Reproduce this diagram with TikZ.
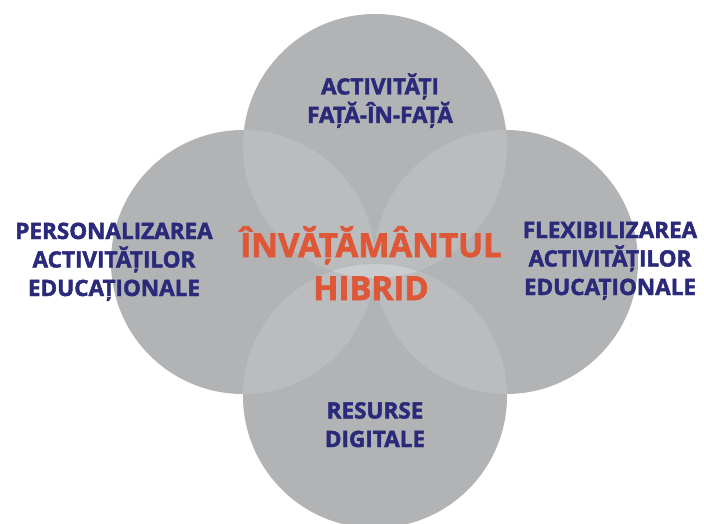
\documentclass[tikz,border=0pt]{standalone}
\usepackage{fontspec}
\newfontfamily\heavyfont{Open Sans}[BoldFeatures={FakeBold=2}]

\definecolor{petal}{RGB}{177,179,181}
\definecolor{petallight}{RGB}{186,188,190}
\definecolor{petallens}{RGB}{202,204,206}
\definecolor{navytext}{RGB}{43,41,122}
\definecolor{hubred}{RGB}{222,88,56}

\tikzset{
  petaltext/.style={text=navytext, align=center, anchor=base,
    font=\heavyfont\bfseries\fontsize{22.5}{28.5}\selectfont},
  hubtext/.style={text=hubred, align=center, anchor=base,
    font=\heavyfont\bfseries\fontsize{33}{43}\selectfont}
}

\begin{document}
\begin{tikzpicture}[x=1pt,y=-1pt]
    \useasboundingbox (0,0) rectangle (704,524);

    % Centres of the four circles
    \coordinate (top) at (375,146);
    \coordinate (bottom) at (375,396);
    \coordinate (left) at (243,262);
    \coordinate (right) at (506,262);

    % Circles
    \foreach \c in {top,bottom,left,right}
        \fill[petal] (\c) circle[radius=132pt];

    % Lighter overlaps
    \foreach \a/\b in {top/left,top/right,bottom/left,bottom/right}{
        \begin{scope}
            \clip (\a) circle[radius=132pt];
            \fill[petallight] (\b) circle[radius=132pt];
        \end{scope}
    }

    % Small lens in the middle
    \begin{scope}
        \clip (top) circle[radius=132pt];
        \fill[petallens] (bottom) circle[radius=132pt];
    \end{scope}

    % Texts (base = last line)
    \node[hubtext] (hub) at (371,300) {ÎNVĂȚĂMÂNTUL\\HIBRID};
    \node[petaltext] (face) at (380,123) {ACTIVITĂȚI\\FAȚĂ-ÎN-FAȚĂ};
    \node[petaltext] (personal) at (114,296) {PERSONALIZAREA\\ACTIVITĂȚILOR\\EDUCAȚIONALE};
    \node[petaltext] (flexible) at (610,295) {FLEXIBILIZAREA\\ACTIVITĂȚILOR\\EDUCAȚIONALE};
    \node[petaltext] (digital) at (375,447) {RESURSE\\DIGITALE};
\end{tikzpicture}
\end{document}
